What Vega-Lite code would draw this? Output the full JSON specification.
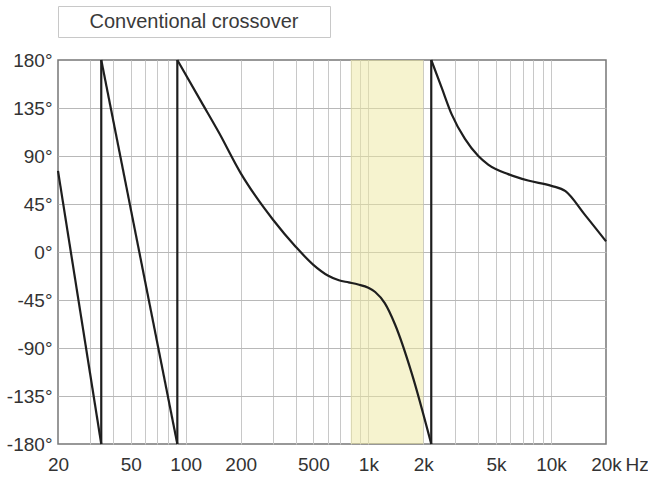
{
  "$schema": "https://vega.github.io/schema/vega-lite/v6.json",
  "config": {"font": "Liberation Sans"},
  "spacing": 23,
  "bounds": "flush",
  "vconcat": [
    {
      "width": 272,
      "height": 31,
      "view": {"stroke": "#c8c8c8", "strokeWidth": 1},
      "data": {"values": [{"t": "Conventional crossover"}]},
      "mark": {"type": "text", "fontSize": 20, "color": "#3a3a3a", "font": "Liberation Sans", "baseline": "middle", "align": "center"},
      "encoding": {"text": {"field": "t", "type": "nominal"}}
    },
    {
      "width": 548,
      "height": 384,
      "view": {"stroke": "#777777", "strokeWidth": 1.5},
      "layer": [
        {
          "data": {"values": [{"f1": 800, "f2": 2000}]},
          "mark": {"type": "rect", "color": "#eee8a0", "opacity": 0.5},
          "encoding": {
            "x": {"field": "f1", "type": "quantitative", "title": "Hz",
              "scale": {"type": "log", "domain": [20, 20000], "nice": false},
              "axis": {"values": [20,30,40,50,60,70,80,90,100,200,300,400,500,600,700,800,900,1000,2000,3000,4000,5000,6000,7000,8000,9000,10000,20000],
                "labelExpr": "indexof([20,50,100,200,500,1000,2000,5000,10000,20000], datum.value) >= 0 ? (datum.value >= 1000 ? (datum.value/1000) + 'k' : datum.value + '') : ''",
                "labelOverlap": false, "labelFlush": false, "ticks": false, "tickSize": 0, "labelPadding": 11, "domain": false,
                "labelFontSize": 19, "labelColor": "#333333", "labelFont": "Liberation Sans",
                "grid": true, "gridColor": "#c8c8c8", "gridWidth": 1,
                "gridOpacity": {"condition": {"test": "datum.value == 20 || datum.value == 20000", "value": 0}, "value": 1},
                "titleX": 567, "titleY": 11, "titleAlign": "left", "titleBaseline": "top", "titleAngle": 0,
                "titleFontSize": 19, "titleFontWeight": "normal", "titleColor": "#333333", "titleFont": "Liberation Sans"}},
            "x2": {"field": "f2"}
          }
        },
        {
          "data": {"values": [
            {"s": "a", "i": 0, "f": 20, "p": 76},
            {"s": "a", "i": 1, "f": 34.5, "p": -180},
            {"s": "j1", "i": 2, "f": 34.5, "p": -180},
            {"s": "j1", "i": 3, "f": 34.5, "p": 180},
            {"s": "b", "i": 4, "f": 34.5, "p": 180},
            {"s": "b", "i": 5, "f": 90, "p": -180},
            {"s": "j2", "i": 6, "f": 90, "p": -180},
            {"s": "j2", "i": 7, "f": 90, "p": 180},
            {"s": "c", "i": 8, "f": 90, "p": 180},
            {"s": "c", "i": 9, "f": 122, "p": 140.5},
            {"s": "c", "i": 10, "f": 152, "p": 112},
            {"s": "c", "i": 11, "f": 200, "p": 74},
            {"s": "c", "i": 12, "f": 240, "p": 53},
            {"s": "c", "i": 13, "f": 300, "p": 30.5},
            {"s": "c", "i": 14, "f": 400, "p": 5},
            {"s": "c", "i": 15, "f": 500, "p": -12},
            {"s": "c", "i": 16, "f": 600, "p": -22},
            {"s": "c", "i": 17, "f": 690, "p": -26.5},
            {"s": "c", "i": 18, "f": 780, "p": -28.5},
            {"s": "c", "i": 19, "f": 880, "p": -30.5},
            {"s": "c", "i": 20, "f": 1000, "p": -33.5},
            {"s": "c", "i": 21, "f": 1090, "p": -37.5},
            {"s": "c", "i": 22, "f": 1230, "p": -48},
            {"s": "c", "i": 23, "f": 1400, "p": -68},
            {"s": "c", "i": 24, "f": 1730, "p": -114},
            {"s": "c", "i": 25, "f": 2210, "p": -180},
            {"s": "j3", "i": 26, "f": 2210, "p": -180},
            {"s": "j3", "i": 27, "f": 2210, "p": 180},
            {"s": "d", "i": 28, "f": 2210, "p": 180},
            {"s": "d", "i": 29, "f": 2520, "p": 154},
            {"s": "d", "i": 30, "f": 2860, "p": 129},
            {"s": "d", "i": 31, "f": 3380, "p": 106},
            {"s": "d", "i": 32, "f": 4000, "p": 90},
            {"s": "d", "i": 33, "f": 4530, "p": 82},
            {"s": "d", "i": 34, "f": 5830, "p": 73},
            {"s": "d", "i": 35, "f": 7490, "p": 67},
            {"s": "d", "i": 36, "f": 10050, "p": 62},
            {"s": "d", "i": 37, "f": 12000, "p": 57},
            {"s": "d", "i": 38, "f": 15300, "p": 35},
            {"s": "d", "i": 39, "f": 20000, "p": 10}
          ]},
          "mark": {"type": "line", "color": "#1e1e1e", "strokeWidth": 2.2, "strokeJoin": "round", "interpolate": "monotone"},
          "encoding": {
            "x": {"field": "f", "type": "quantitative", "title": "Hz",
              "scale": {"type": "log", "domain": [20, 20000], "nice": false},
              "axis": {"values": [20,30,40,50,60,70,80,90,100,200,300,400,500,600,700,800,900,1000,2000,3000,4000,5000,6000,7000,8000,9000,10000,20000],
                "labelExpr": "indexof([20,50,100,200,500,1000,2000,5000,10000,20000], datum.value) >= 0 ? (datum.value >= 1000 ? (datum.value/1000) + 'k' : datum.value + '') : ''",
                "labelOverlap": false, "labelFlush": false, "ticks": false, "tickSize": 0, "labelPadding": 11, "domain": false,
                "labelFontSize": 19, "labelColor": "#333333", "labelFont": "Liberation Sans",
                "grid": true, "gridColor": "#c8c8c8", "gridWidth": 1,
                "gridOpacity": {"condition": {"test": "datum.value == 20 || datum.value == 20000", "value": 0}, "value": 1},
                "titleX": 567, "titleY": 11, "titleAlign": "left", "titleBaseline": "top", "titleAngle": 0,
                "titleFontSize": 19, "titleFontWeight": "normal", "titleColor": "#333333", "titleFont": "Liberation Sans"}},
            "y": {"field": "p", "type": "quantitative", "title": null,
              "scale": {"domain": [-180, 180], "nice": false, "zero": false},
              "axis": {"values": [-180,-135,-90,-45,0,45,90,135,180],
                "labelExpr": "datum.value + '°'",
                "ticks": false, "tickSize": 0, "labelPadding": 6, "domain": false,
                "labelFontSize": 19, "labelColor": "#333333", "labelFont": "Liberation Sans",
                "grid": true, "gridColor": "#b8b8b8", "gridWidth": 1,
                "gridOpacity": {"condition": {"test": "abs(datum.value) == 180", "value": 0}, "value": 1}}},
            "detail": {"field": "s", "type": "nominal"},
            "order": {"field": "i", "type": "quantitative"}
          }
        }
      ]
    }
  ]
}
